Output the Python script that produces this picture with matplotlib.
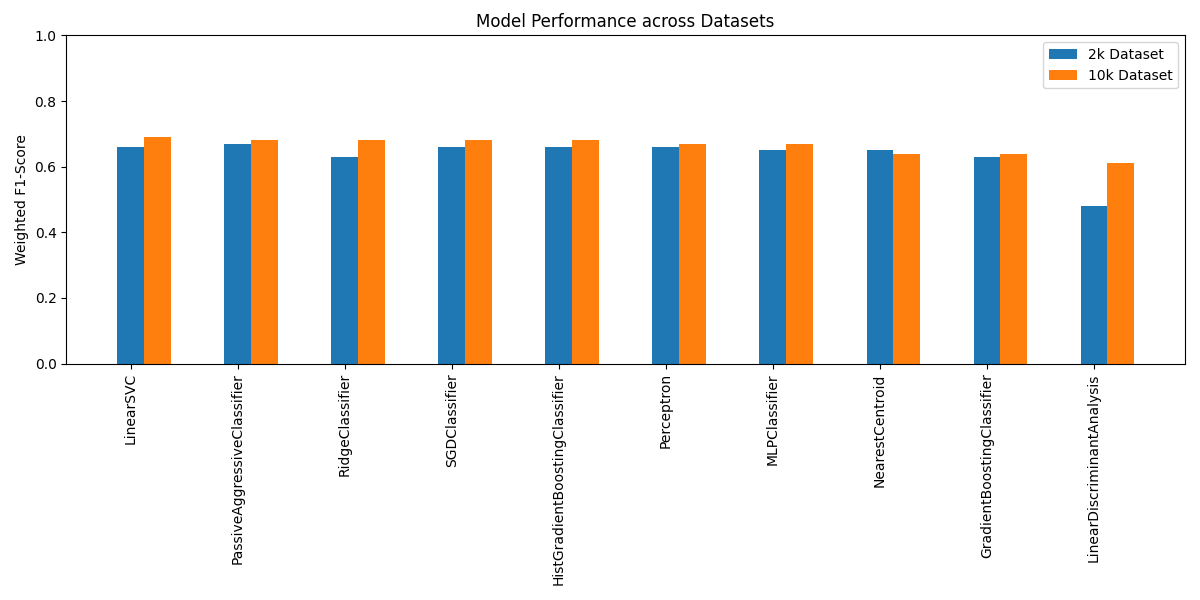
import matplotlib
matplotlib.use("Agg")
import matplotlib.pyplot as plt
import numpy as np

models = ["LinearSVC", "PassiveAggressiveClassifier", "RidgeClassifier", "SGDClassifier",
          "HistGradientBoostingClassifier", "Perceptron", "MLPClassifier", "NearestCentroid",
          "GradientBoostingClassifier", "LinearDiscriminantAnalysis"]
f1_2k = [0.66, 0.67, 0.63, 0.66, 0.66, 0.66, 0.65, 0.65, 0.63, 0.48]
f1_10k = [0.69, 0.68, 0.68, 0.68, 0.68, 0.67, 0.67, 0.64, 0.64, 0.61]

fig, ax = plt.subplots(figsize=(12, 6), dpi=100)
x = np.arange(len(models))
w = 0.25
ax.bar(x, f1_2k, w, label="2k Dataset", color="#1f77b4")
ax.bar(x + w, f1_10k, w, label="10k Dataset", color="#ff7f0e")
ax.set_xticks(x)
ax.set_xticklabels(models, rotation=90)
ax.set_ylim(0, 1)
ax.set_ylabel("Weighted F1-Score")
ax.set_title("Model Performance across Datasets")
ax.legend(loc="upper right")
fig.tight_layout()
fig.subplots_adjust(top=0.941)
fig.savefig("out.png")
